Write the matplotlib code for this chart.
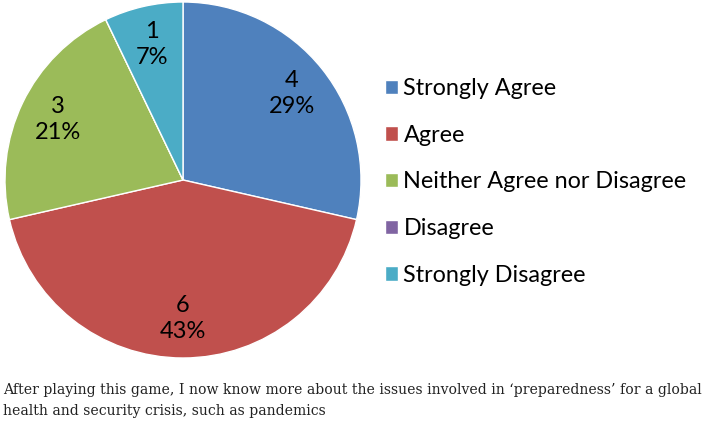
import matplotlib
matplotlib.use("Agg")
import matplotlib.pyplot as plt

# Survey responses
categories = ["Strongly Agree", "Agree", "Neither Agree nor Disagree",
              "Disagree", "Strongly Disagree"]
counts = [4, 6, 3, 0, 1]
colors = ["#4F81BD", "#C0504D", "#9BBB59", "#8064A2", "#4BACC6"]
caption = ("After playing this game, I now know more about the issues involved in "
           "\u2018preparedness\u2019 for a global\nhealth and security crisis, "
           "such as pandemics")

W, H = 724, 428
fig = plt.figure(figsize=(W / 100, H / 100), dpi=100)

# pie area in pixels: center (183, 180), radius 178
cx, cy, r = 183, 180, 178
ax = fig.add_axes([(cx - r) / W, (H - cy - r) / H, 2 * r / W, 2 * r / H])

total = sum(counts)


def fmt(pct):
    n = round(pct * total / 100)
    return "" if n == 0 else f"{n}\n{pct:.0f}%"


wedges, _, autotexts = ax.pie(
    counts, colors=colors, startangle=90, counterclock=False,
    autopct=fmt, pctdistance=0.78,
    wedgeprops=dict(edgecolor="white", linewidth=1.0),
    textprops=dict(fontsize=17, family="Lato", color="black",
                   linespacing=1.3),
)
ax.set_xlim(-1, 1)
ax.set_ylim(-1, 1)
ax.set_aspect("equal")

fig.legend(
    wedges, categories, loc="upper left",
    bbox_to_anchor=(385 / W, 1 - 78 / H),
    frameon=False, prop=dict(family="Lato", size=16.8),
    handlelength=0.57, handleheight=0.57, handletextpad=0.22,
    labelspacing=1.1, borderpad=0, borderaxespad=0,
)

fig.text(3 / W, 1 - 383 / H, caption, ha="left", va="top",
         family="DejaVu Serif", fontsize=10.05, color="#222222",
         linespacing=1.65)

fig.savefig("out.png", dpi=100)
